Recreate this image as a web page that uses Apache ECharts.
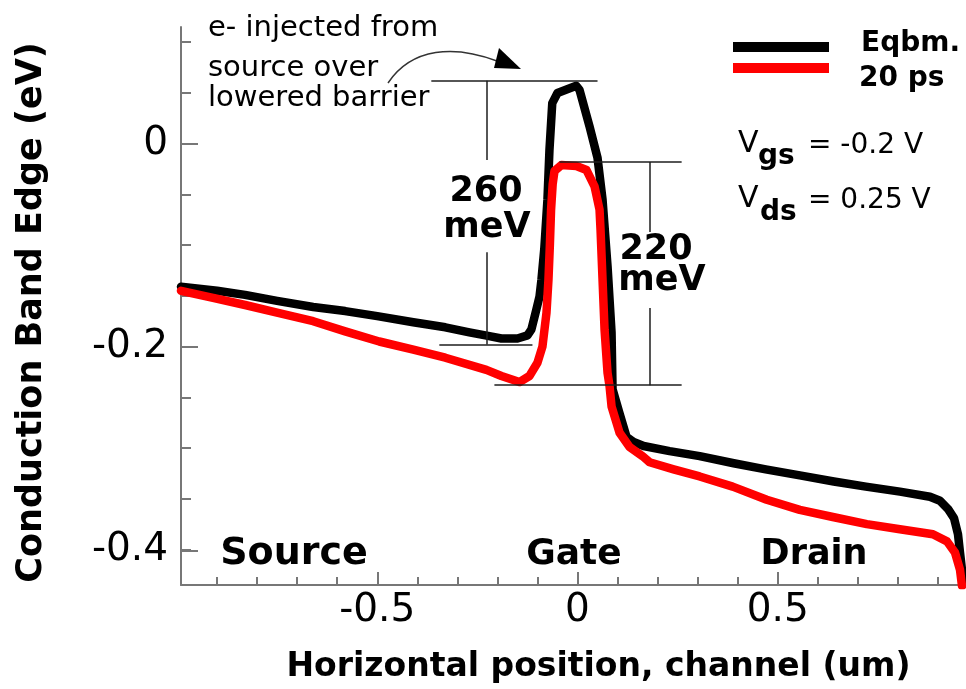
<!DOCTYPE html>
<html>
<head>
<meta charset="utf-8">
<script src="https://cdn.jsdelivr.net/npm/echarts@6/dist/echarts.min.js"></script>
<style>
  html, body { margin: 0; padding: 0; background: #fff; }
  #chart { width: 966px; height: 689px; }
</style>
</head>
<body>
<div id="chart"></div>
<script>
// Conduction band edge along the channel (x in um, energy in eV)
const eqbm = [
  [-0.99, -0.141], [-0.90, -0.145], [-0.83, -0.149], [-0.75, -0.155], [-0.66, -0.161],
  [-0.58, -0.165], [-0.50, -0.170], [-0.41, -0.176], [-0.33, -0.181], [-0.27, -0.186],
  [-0.23, -0.189], [-0.19, -0.192], [-0.15, -0.192], [-0.125, -0.189], [-0.115, -0.183],
  [-0.103, -0.164], [-0.095, -0.151], [-0.09, -0.134], [-0.083, -0.104], [-0.075, -0.055],
  [-0.07, -0.006], [-0.063, 0.040], [-0.05, 0.050], [-0.003, 0.057], [0.005, 0.053],
  [0.03, 0.017], [0.05, -0.014], [0.0625, -0.055], [0.075, -0.121], [0.085, -0.186],
  [0.0875, -0.242], [0.105, -0.266], [0.1225, -0.289], [0.14, -0.294], [0.165, -0.298],
  [0.23, -0.303], [0.305, -0.308], [0.39, -0.315], [0.47, -0.321], [0.555, -0.327],
  [0.64, -0.333], [0.72, -0.338], [0.805, -0.343], [0.88, -0.348], [0.905, -0.352],
  [0.925, -0.360], [0.94, -0.369], [0.95, -0.385], [0.955, -0.403], [0.96, -0.420],
  [0.963, -0.434]
];
const ps20 = [
  [-0.99, -0.145], [-0.91, -0.152], [-0.83, -0.159], [-0.745, -0.167], [-0.66, -0.175],
  [-0.58, -0.185], [-0.495, -0.195], [-0.41, -0.203], [-0.33, -0.211], [-0.2275, -0.223],
  [-0.19, -0.229], [-0.145, -0.235], [-0.12, -0.229], [-0.10, -0.216], [-0.0875, -0.200],
  [-0.0775, -0.167], [-0.0725, -0.134], [-0.069, -0.100], [-0.066, -0.065], [-0.062, -0.040],
  [-0.0575, -0.027], [-0.04, -0.021], [-0.003, -0.022], [0.0225, -0.026], [0.0425, -0.042],
  [0.055, -0.065], [0.0575, -0.085], [0.0625, -0.134], [0.0675, -0.183], [0.075, -0.226],
  [0.08, -0.239], [0.085, -0.259], [0.105, -0.285], [0.13, -0.299], [0.1625, -0.308],
  [0.18, -0.314], [0.24, -0.321], [0.305, -0.328], [0.3875, -0.338], [0.4725, -0.351],
  [0.555, -0.361], [0.6375, -0.368], [0.7225, -0.375], [0.805, -0.380], [0.8875, -0.385],
  [0.9225, -0.392], [0.9425, -0.403], [0.955, -0.420], [0.96, -0.436]
];

const seriesNames = ['Eqbm.', '20 ps'];
const xTickLabels = [-0.5, 0, 0.5];
const xMinorTicks = [-0.9, -0.8, -0.7, -0.6, -0.5, -0.4, -0.3, -0.2, -0.1, 0, 0.1, 0.2, 0.3, 0.4, 0.5, 0.6, 0.7, 0.8, 0.9];
const yTickLabels = [0, -0.2, -0.4];
const yMinorTicks = [0.1, 0.05, 0, -0.05, -0.1, -0.15, -0.2, -0.25, -0.3, -0.35, -0.4];

// barrier heights quoted on the plot (eV)
const barrierEqbm = 0.26;
const barrierPs = 0.22;
const eqbmTop = 0.062;
const psTop = -0.018;
const eqbmBottom = eqbmTop - barrierEqbm;
const psBottom = psTop - barrierPs;

const X_MIN = -0.99, X_MAX = 0.97, Y_MIN = -0.435, Y_MAX = 0.115;
const FONT = 'DejaVu Sans';
const AXIS_GRAY = '#777777';
const gridBox = { left: 181, right: 0, top: 27, bottom: 103 };

function seg(x1, y1, x2, y2) {
  return [{ coord: [x1, y1] }, { coord: [x2, y2] }];
}

const bracketLines = [
  // 260 meV bracket (equilibrium barrier)
  seg(-0.365, eqbmTop, 0.05, eqbmTop),
  seg(-0.345, eqbmBottom, -0.1125, eqbmBottom),
  seg(-0.2275, eqbmTop, -0.2275, -0.016),
  seg(-0.2275, -0.107, -0.2275, eqbmBottom),
  // 220 meV bracket (barrier at 20 ps)
  seg(-0.045, psTop, 0.26, psTop),
  seg(-0.2075, psBottom, 0.26, psBottom),
  seg(0.18, psTop, 0.18, -0.087),
  seg(0.18, -0.162, 0.18, psBottom)
];

function label(text, x, y, size, weight, align) {
  return {
    type: 'text', x: x, y: y, silent: true,
    style: {
      text: text, fill: '#000', fontFamily: FONT, fontSize: size,
      fontWeight: weight, align: align || 'left', verticalAlign: 'middle'
    }
  };
}

const chart = echarts.init(document.getElementById('chart'), null, { renderer: 'canvas' });

const option = {
  animation: false,
  backgroundColor: '#fff',
  grid: [
    Object.assign({ containLabel: false }, gridBox),
    Object.assign({ containLabel: false }, gridBox)
  ],
  // legend swatches; their captions sit slightly apart and are drawn below as text
  legend: {
    orient: 'vertical', left: 733, top: 42, padding: 0, itemGap: 11,
    itemWidth: 96, itemHeight: 10, icon: 'rect',
    itemStyle: { borderWidth: 0 },
    selectedMode: false,
    formatter: function () { return ''; },
    textStyle: { fontSize: 8, lineHeight: 8 },
    data: seriesNames
  },
  xAxis: [
    {
      type: 'value', gridIndex: 0, min: X_MIN, max: X_MAX,
      name: 'Horizontal position, channel (um)', nameLocation: 'middle', nameGap: 66,
      nameTextStyle: { fontFamily: FONT, fontSize: 33, fontWeight: 'bold', color: '#000', padding: [0, 0, 0, 50] },
      axisLine: { show: true, onZero: false, lineStyle: { color: AXIS_GRAY, width: 2 } },
      axisTick: { show: true, inside: true, length: 8, customValues: xMinorTicks, lineStyle: { color: AXIS_GRAY, width: 2 } },
      axisLabel: { show: true, customValues: xTickLabels, margin: 6, fontFamily: FONT, fontSize: 39, color: '#000' },
      splitLine: { show: false }
    },
    {
      type: 'value', gridIndex: 1, min: X_MIN, max: X_MAX,
      axisLine: { show: false, onZero: false },
      axisTick: { show: true, inside: true, length: 14, customValues: xTickLabels, lineStyle: { color: AXIS_GRAY, width: 2 } },
      axisLabel: { show: false },
      splitLine: { show: false }
    }
  ],
  yAxis: [
    {
      type: 'value', gridIndex: 0, min: Y_MIN, max: Y_MAX,
      name: 'Conduction Band Edge (eV)', nameLocation: 'middle', nameGap: 132,
      nameTextStyle: { fontFamily: FONT, fontSize: 35, fontWeight: 'bold', color: '#000', padding: [0, 13, 0, 0] },
      axisLine: { show: true, onZero: false, lineStyle: { color: AXIS_GRAY, width: 2 } },
      axisTick: { show: true, inside: true, length: 10, customValues: yMinorTicks, lineStyle: { color: AXIS_GRAY, width: 2 } },
      axisLabel: { show: true, customValues: yTickLabels, margin: 13, fontFamily: FONT, fontSize: 39, color: '#000' },
      splitLine: { show: false }
    },
    {
      type: 'value', gridIndex: 1, min: Y_MIN, max: Y_MAX,
      axisLine: { show: false, onZero: false },
      axisTick: { show: true, inside: true, length: 17, customValues: yTickLabels, lineStyle: { color: AXIS_GRAY, width: 2 } },
      axisLabel: { show: false },
      splitLine: { show: false }
    }
  ],
  series: [
    {
      name: 'brackets', type: 'line', xAxisIndex: 0, yAxisIndex: 0, data: [],
      silent: true, z: 1,
      markLine: {
        silent: true, symbol: 'none', animation: false,
        label: { show: false },
        lineStyle: { color: '#1e1e1e', width: 1.5, type: 'solid' },
        emphasis: { disabled: true },
        data: bracketLines
      }
    },
    {
      name: seriesNames[0], type: 'line', xAxisIndex: 0, yAxisIndex: 0, data: eqbm,
      showSymbol: false, symbol: 'none', z: 2,
      color: '#000',
      lineStyle: { color: '#000', width: 8.5, join: 'round', cap: 'round' },
      itemStyle: { color: '#000' }
    },
    {
      name: seriesNames[1], type: 'line', xAxisIndex: 0, yAxisIndex: 0, data: ps20,
      showSymbol: false, symbol: 'none', z: 3,
      color: '#ff0000',
      lineStyle: { color: '#ff0000', width: 8.5, join: 'round', cap: 'round' },
      itemStyle: { color: '#ff0000' }
    }
  ],
  graphic: [
    label(seriesNames[0], 861, 43.3, 28, 'bold'),
    label(seriesNames[1], 859, 78.3, 28, 'bold'),
    label('e- injected from', 208, 28, 29, 'normal'),
    label('source over', 208, 68, 29, 'normal'),
    label('lowered barrier', 208, 98, 29, 'normal'),
    {
      type: 'bezierCurve', silent: true,
      shape: { x1: 388, y1: 83, cpx1: 412, cpy1: 47, cpx2: 455, cpy2: 45, x2: 497, y2: 61 },
      style: { stroke: '#333', lineWidth: 1.5, fill: null }
    },
    {
      type: 'polygon', silent: true,
      shape: { points: [[499, 48], [494, 68], [521, 69]] },
      style: { fill: '#000' }
    },
    label('260', 486, 192, 35, 'bold', 'center'),
    label('meV', 487, 228, 35, 'bold', 'center'),
    label('220', 656, 250, 35, 'bold', 'center'),
    label('meV', 662, 281, 35, 'bold', 'center'),
    label('Source', 294, 554, 38, 'bold', 'center'),
    label('Gate', 574, 554.5, 36, 'bold', 'center'),
    label('Drain', 814, 555, 35, 'bold', 'center'),
    label('V', 738, 144.6, 30, 'normal'),
    label('gs', 758, 156.3, 28, 'bold'),
    label('= -0.2 V', 808, 145.3, 28, 'normal'),
    label('V', 738, 199.6, 30, 'normal'),
    label('ds', 760, 212.3, 28, 'bold'),
    label('= 0.25 V', 808, 200.3, 28, 'normal')
  ]
};

chart.setOption(option);
</script>
</body>
</html>
